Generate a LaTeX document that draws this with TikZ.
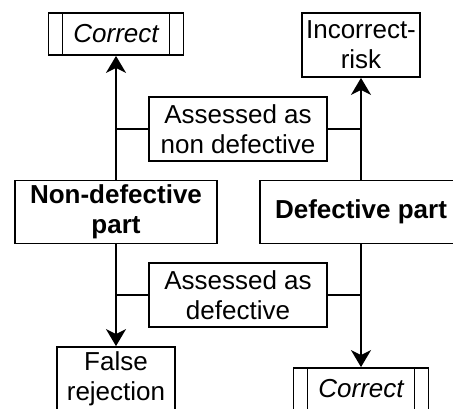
\documentclass[tikz,border=0pt]{standalone}
\usepackage{fontspec}
\setmainfont{Liberation Sans}
\usetikzlibrary{arrows.meta, positioning}

\tikzset{
  box/.style={draw, line width=1.8pt, inner sep=0pt, align=center, font=\fontsize{26}{30}\selectfont},
  partbox/.style={box, minimum width=202pt, minimum height=63pt, font=\fontsize{26}{30}\selectfont\bfseries},
  outbox/.style={box, minimum width=118pt, minimum height=64pt},
  assessbox/.style={box, minimum width=178pt, minimum height=64pt},
  procbox/.style={box, minimum width=135pt, minimum height=42pt, font=\fontsize{26}{30}\selectfont\itshape,
    path picture={
      \draw[line width=1.8pt] ([xshift=14pt]path picture bounding box.north west) -- ([xshift=14pt]path picture bounding box.south west)
        ([xshift=-14pt]path picture bounding box.north east) -- ([xshift=-14pt]path picture bounding box.south east);
    }},
  flow/.style={line width=1.8pt, -{Stealth[length=17pt, width=20pt, inset=5pt]}},
  tie/.style={line width=1.8pt}
}

\begin{document}
\begin{tikzpicture}[x=1pt, y=-1pt]
  \useasboundingbox (0,0) rectangle (453,408);
  \clip (0,0) rectangle (453,408);

  % the two kinds of part
  \node[partbox] (nondef) at (116,212) {Non-defective\\part};
  \node[partbox] (def) at (361,212) {Defective part};

  % outcomes
  \node[procbox] (corrtop) at (116,34) {Correct};
  \node[outbox] (incorr) at (361,45) {Incorrect-\\risk};
  \node[outbox] (falserej) at (116,379) {False\\rejection};
  \node[procbox] (corrbot) at (361,389) {Correct};

  % assessments
  \node[assessbox] (asnondef) at (238,129) {Assessed as\\non defective};
  \node[assessbox] (asdef) at (238,295) {Assessed as\\defective};

  % connectors
  \draw[flow] (nondef) -- (corrtop);
  \draw[flow] (def) -- (incorr);
  \draw[flow] (nondef) -- (falserej);
  \draw[flow] (def) -- (corrbot);

  \draw[tie] (asnondef.west) -- (asnondef.west -| nondef.north);
  \draw[tie] (asnondef.east) -- (asnondef.east -| def.north);
  \draw[tie] (asdef.west) -- (asdef.west -| nondef.south);
  \draw[tie] (asdef.east) -- (asdef.east -| def.south);
\end{tikzpicture}
\end{document}
